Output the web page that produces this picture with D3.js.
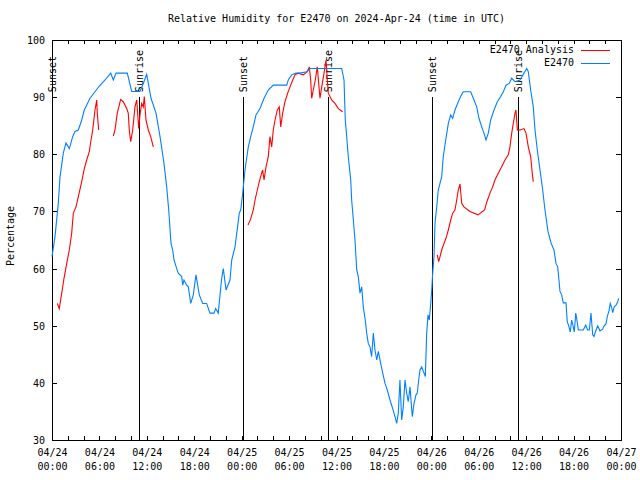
<!DOCTYPE html>
<html>
<head>
<meta charset="utf-8">
<script src="https://cdn.jsdelivr.net/npm/d3@7"></script>
<style>
html,body{margin:0;padding:0;background:#fff;}
svg{display:block;}
text{font-family:"DejaVu Sans Mono","Liberation Mono",monospace;font-size:10px;fill:#000;}
</style>
</head>
<body>
<svg id="chart" width="640" height="480"></svg>
<script>
// ---- data (hours since 2024-04-24 00:00 UTC) ----
const obsHours = [0,0.38,0.80,1.01,1.43,1.77,2.19,2.62,2.91,3.33,3.76,4.09,4.81,5.44,5.99,6.71,7.43,7.76,8.10,9.53,10.08,11.13,11.55,11.98,12.53,13.16,13.67,14.17,14.51,14.77,15.06,15.27,15.44,15.78,15.98,16.41,16.54,16.70,17.04,17.25,17.55,17.88,18.22,18.64,19.07,19.57,19.99,20.50,20.71,21.04,21.26,21.47,21.68,22.02,22.52,22.74,23.16,23.70,23.88,24.13,24.42,24.84,25.14,25.47,25.81,26.32,26.83,27.37,28.00,29.70,29.90,30.33,30.87,31.38,32.23,32.65,36.66,36.95,37.11,37.29,37.49,37.80,37.92,38.13,38.34,38.56,38.76,38.97,39.19,39.39,39.64,39.82,40.02,40.24,40.45,40.66,40.87,41.09,41.29,41.59,41.85,42.14,42.43,42.77,43.11,43.40,43.62,43.82,44.03,44.25,44.45,44.67,44.88,45.08,45.30,45.59,45.81,46.06,46.22,46.40,46.56,46.78,47.24,47.41,47.58,47.74,47.92,48.05,48.17,48.34,48.46,48.68,48.88,49.31,49.51,49.82,50.15,50.45,50.70,50.99,51.41,51.71,52.04,52.98,53.40,53.74,54.03,54.37,54.66,54.92,55.21,55.51,55.93,56.35,56.78,57.11,57.45,57.86,58.17,58.59,59.22,59.72,60.07,60.27,60.57,60.90,61.12,61.41,61.75,62.09,62.38,62.76,63.14,63.52,63.77,63.99,64.15,64.28,64.49,64.70,65.04,65.20,65.42,65.58,65.76,65.96,66.09,66.27,66.39,66.60,67.23,67.53,67.78,67.99,68.20,68.42,68.58,68.75,69.05,69.34,69.68,69.85,70.10,70.26,70.48,70.64,70.82,70.95,71.15,71.37,71.58,71.71];
const obsValues = [62.1,65.6,71.5,76,80.2,82.0,81.0,83.1,84.0,84.25,86,87.75,89.8,90.95,91.95,93,94.2,93,94.2,94.2,91,91,92.4,94,89.8,87.2,83.1,78.4,74.3,70.25,64.4,63.25,61.5,60,59.2,58.6,57.1,58,57.1,56.8,53.9,55.4,58.9,55.4,53.9,53.9,52.2,52.2,53.0,52.2,55.4,58.3,60,56.25,58,61.5,63.8,69.7,70.25,73.2,77.25,81.3,83.1,84.8,86.9,88.0,89.8,91.25,92.1,92.1,93,93.9,94.2,94.2,94.45,95.0,95,93,86,83.1,79.6,75.5,72,68.5,65,59.75,58.6,55.7,56.8,53.3,51,48.7,46.9,46.3,44.6,48.7,45.75,44,45.5,43.4,41.7,39.9,38.75,37,35.5,34.1,32.9,34.7,40.5,33.5,35.8,40.5,38.2,36.7,39.3,34.1,36.4,37.9,38.2,40.5,42.25,42.8,41.1,48.7,51.9,51,53.9,56.25,59.2,62.1,67.9,70.8,73.75,76.1,79.6,82.5,85.4,86.9,86.3,87.75,89.2,90.1,90.95,90.95,89.5,88.3,86.3,84.8,83.7,82.5,83.7,86,87.75,89.2,90.1,90.95,92.1,92.4,93.3,92.7,93,94.2,95,94.45,91.25,88.3,84.25,80.75,77.25,73.75,70.25,66.5,64.5,63.25,60.9,60.3,58,56,55.4,54,54,50.7,49.8,48.9,51,49.8,48.9,52.2,51.3,49.25,49.25,50.1,49.25,49.25,52.2,48.4,48.1,48.9,49.95,49.1,49.4,49.95,50.3,51.6,52.6,53.9,53.2,52.3,53.3,53.6,54.2,54.8];

// analysis series; null marks a gap in the data
const anaHours = [0.67,0.92,1.23,1.52,1.86,2.19,2.49,2.70,3.04,3.33,3.76,4.09,4.39,4.72,4.90,5.15,5.44,5.66,5.73,5.91,6.8,
  7.76,7.97,8.26,8.69,9.02,9.45,9.65,9.78,9.96,10.21,10.50,10.72,10.97,11.13,11.35,11.55,11.68,11.89,12.19,12.49,12.82,18.0,
  24.80,25.12,25.47,25.69,25.98,26.23,26.53,26.66,26.83,27.08,27.37,27.58,27.80,28.00,28.22,28.51,28.76,28.94,29.19,29.48,29.82,30.12,30.46,30.75,31.17,31.80,32.30,32.56,32.73,32.86,33.06,33.32,33.57,33.75,33.91,34.13,34.42,34.67,34.84,34.96,35.39,35.81,36.23,36.78,42.0,
  48.75,48.93,49.10,49.31,49.60,49.85,50.15,50.45,50.70,50.99,51.21,51.41,51.63,51.84,52.13,52.89,53.90,54.74,55.03,55.42,55.76,56.05,56.47,56.90,57.32,57.74,57.95,58.17,58.37,58.59,58.71,58.88,59.22,59.72,59.98,60.27,60.57,60.77,60.90];
const anaValues = [53.9,53,55.7,58.3,60.9,63.25,66.2,69.7,70.8,72.6,75.2,77.5,79,80.45,82.2,84.25,87.75,89.5,87.2,84.25,null,
  83.2,84.25,87.2,89.6,89.2,88,87.2,84.25,82.2,84.25,88.3,89.5,84.5,86.9,88.9,88.3,90.1,86,84.25,83.1,81.3,null,
  67.6,68.6,70.25,72,73.75,75.2,76.7,77.25,75.5,77.8,79.6,83.1,81.3,84.25,86,87.75,88.3,84.8,87.2,89.2,90.7,91.8,93,93.9,94.2,93.9,94.45,95.3,93,89.8,91.25,93,95.3,92.4,89.8,91.8,94.2,96.5,93,90.7,89.5,88.9,88,87.45,null,
  62.4,61.2,62.1,63.25,64.4,65.3,66.75,68.5,69.7,70.25,72,73.75,74.8,71.4,70.8,70.0,69.4,70.25,71.7,73.2,74.3,75.5,76.7,77.8,79,79.9,81.3,83.7,85.4,87.2,87.75,84.25,84.25,84.5,83.7,81.3,79.6,76.7,75.2];

const sunHours = [0.06, 11.05, 24.2, 34.98, 48.1, 59.0];
const sunLabels = ["Sunset","Sunrise","Sunset","Sunrise","Sunset","Sunrise"];

const xTickHours = [0,6,12,18,24,30,36,42,48,54,60,66,72];
const xTickDates = ["04/24","04/24","04/24","04/24","04/25","04/25","04/25","04/25","04/26","04/26","04/26","04/26","04/27"];
const xTickTimes = ["00:00","06:00","12:00","18:00","00:00","06:00","12:00","18:00","00:00","06:00","12:00","18:00","00:00"];
const yTicks = [30,40,50,60,70,80,90,100];

const seriesNames = ["E2470 Analysis","E2470"];
const seriesColors = ["#ff0000","#0080ff"];
const titleText = "Relative Humidity for E2470 on 2024-Apr-24 (time in UTC)";
const yLabelText = "Percentage";

// ---- drawing ----
const L = 52, R = 621, T = 40, B = 440;
const svg = d3.select("#chart");
const x = d3.scaleLinear().domain([0,72]).range([L,R]);
const y = d3.scaleLinear().domain([30,100]).range([B,T]);

svg.append("rect").attr("width",640).attr("height",480).attr("fill","#fff");

// title
svg.append("text").attr("x",(L+R)/2).attr("y",19).attr("text-anchor","middle")
  .attr("dominant-baseline","middle").text(titleText);

// y label
svg.append("text").attr("transform","translate(11,236) rotate(-90)")
  .attr("text-anchor","middle").attr("dominant-baseline","middle").text(yLabelText);

// axes (inward ticks, gnuplot style)
const minorHours = d3.range(0,73,2);
const gB = svg.append("g").attr("transform",`translate(0,${B})`)
  .call(d3.axisBottom(x).tickValues(minorHours).tickSize(-4).tickFormat(""));
const gT = svg.append("g").attr("transform",`translate(0,${T})`)
  .call(d3.axisTop(x).tickValues(minorHours).tickSize(-4).tickFormat(""));
const gL = svg.append("g").attr("transform",`translate(${L},0)`)
  .call(d3.axisLeft(y).tickValues(yTicks).tickSize(-5).tickPadding(7).tickFormat(d3.format("d")));
const gR = svg.append("g").attr("transform",`translate(${R},0)`)
  .call(d3.axisRight(y).tickValues(yTicks).tickSize(-5).tickFormat(""));
[gB,gT,gL,gR].forEach(g=>{
  g.select(".domain").remove();
  g.selectAll("line").attr("stroke","#000").attr("shape-rendering","crispEdges");
  g.selectAll("text").attr("font-family",null).attr("font-size",null);
  g.attr("font-family",null).attr("font-size",null);
});
gL.selectAll("text").attr("dy","0.35em");

// x tick labels (two lines) using the axis
const gLab = svg.append("g").attr("transform",`translate(0,${B})`)
  .call(d3.axisBottom(x).tickValues(xTickHours).tickSize(0).tickFormat(""));
gLab.select(".domain").remove();
gLab.attr("font-family",null).attr("font-size",null);
gLab.selectAll(".tick").each(function(d,i){
  const t = d3.select(this).select("text").attr("y",null).attr("dy",null);
  t.append("tspan").attr("x",0).attr("y",13).attr("dominant-baseline","middle").text(xTickDates[i]);
  t.append("tspan").attr("x",0).attr("y",27).attr("dominant-baseline","middle").text(xTickTimes[i]);
});

// frame
svg.append("rect").attr("x",L+0.5).attr("y",T+0.5).attr("width",R-L).attr("height",B-T)
  .attr("fill","none").attr("stroke","#000").attr("shape-rendering","crispEdges");

// sunrise / sunset markers
const sun = svg.append("g");
sun.selectAll("line").data(sunHours).join("line")
  .attr("x1",d=>Math.round(x(d))+0.5).attr("x2",d=>Math.round(x(d))+0.5)
  .attr("y1",y(30)).attr("y2",y(90))
  .attr("stroke","#000").attr("shape-rendering","crispEdges");
sun.selectAll("text").data(sunHours).join("text")
  .attr("transform",d=>`translate(${Math.round(x(d))+0.5},${y(90)-5}) rotate(-90)`)
  .attr("text-anchor","start").attr("dominant-baseline","middle")
  .text((d,i)=>sunLabels[i]);

// data lines
const line = d3.line().defined(d=>d[1]!==null).x(d=>x(d[0])).y(d=>y(d[1]));
const anaData = anaHours.map((h,i)=>[h,anaValues[i]]);
const obsData = obsHours.map((h,i)=>[h,obsValues[i]]);
svg.append("path").datum(anaData).attr("d",line).attr("fill","none")
  .attr("stroke",seriesColors[0]).attr("stroke-width",1.1);
svg.append("path").datum(obsData).attr("d",line).attr("fill","none")
  .attr("stroke",seriesColors[1]).attr("stroke-width",1.1);

// legend
const leg = svg.append("g");
seriesNames.forEach((n,i)=>{
  const yy = 49.5 + i*13;
  leg.append("text").attr("x",574).attr("y",yy).attr("text-anchor","end")
    .attr("dominant-baseline","middle").text(n);
  leg.append("line").attr("x1",581).attr("x2",610).attr("y1",Math.round(yy)+0.5).attr("y2",Math.round(yy)+0.5)
    .attr("stroke",seriesColors[i]).attr("shape-rendering","crispEdges");
});
</script>
</body>
</html>
